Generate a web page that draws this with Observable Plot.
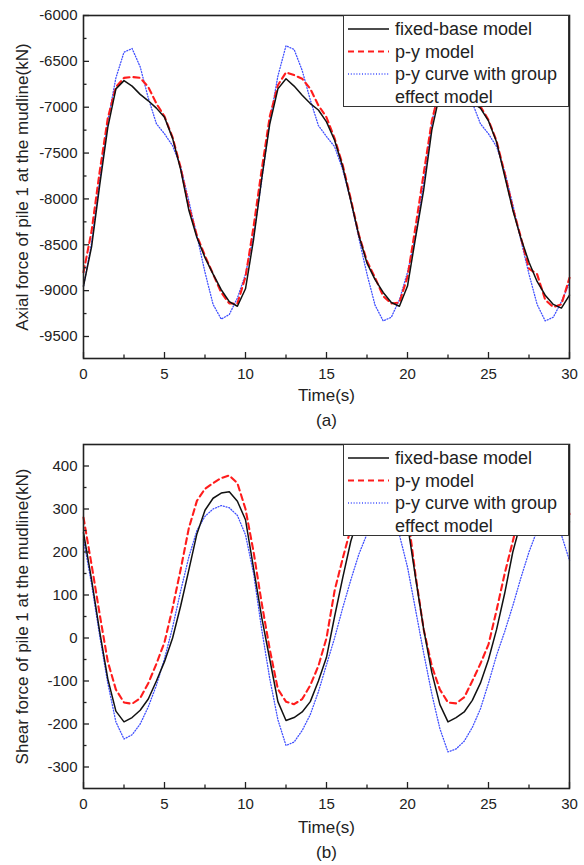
<!DOCTYPE html>
<html><head><meta charset="utf-8">
<script src="https://cdn.jsdelivr.net/npm/d3@7"></script>
<script src="https://cdn.jsdelivr.net/npm/@observablehq/plot@0.6"></script>
<style>
body{margin:0;background:#fff;font-family:Arial,"Liberation Sans",sans-serif;}
#wrap{width:584px;}
.panel{position:relative;width:584px;}
.panel svg{display:block;}
.legend{position:absolute;background:#fff;border:1.3px solid #333;box-sizing:border-box;}
.legend svg{position:absolute;left:0;top:0;}
</style></head><body><div id="wrap"></div>
<script>
// ---------- data ----------
const time = [0,0.5,1,1.5,2,2.5,3,3.5,4,4.5,5,5.5,6,6.5,7,7.5,8,8.5,9,9.5,
  10,10.5,11,11.5,12,12.5,13,13.5,14,14.5,15,15.5,16,16.5,17,17.5,18,18.5,19,19.5,
  20,20.5,21,21.5,22,22.5,23,23.5,24,24.5,25,25.5,26,26.5,27,27.5,28,28.5,29,29.5,30];

// (a) axial force (kN)
const axialFixed = [-8950,-8520,-7850,-7220,-6800,-6710,-6770,-6860,-6930,-7010,
  -7110,-7340,-7680,-8120,-8420,-8640,-8820,-8990,-9120,-9170,
  -8980,-8440,-7780,-7180,-6800,-6690,-6770,-6870,-6960,-7030,
  -7160,-7360,-7650,-8020,-8400,-8700,-8880,-9020,-9130,-9170,
  -8950,-8420,-7900,-7250,-6850,-6720,-6770,-6870,-6950,-7010,
  -7150,-7380,-7750,-8120,-8430,-8690,-8900,-9050,-9150,-9190,-9050];
const axialPy = [-8800,-8350,-7700,-7120,-6780,-6680,-6670,-6680,-6780,-6960,
  -7100,-7330,-7660,-8080,-8400,-8620,-8820,-9020,-9140,-9140,
  -8850,-8300,-7680,-7100,-6760,-6620,-6650,-6690,-6800,-6980,
  -7110,-7340,-7630,-8000,-8390,-8680,-8860,-9060,-9140,-9130,
  -8850,-8300,-7720,-7150,-6790,-6650,-6660,-6700,-6800,-6990,
  -7140,-7370,-7720,-8100,-8420,-8760,-8820,-9100,-9180,-9150,-8860];
const axialGroup = [-8950,-8480,-7800,-7150,-6680,-6400,-6360,-6560,-6900,-7180,
  -7290,-7420,-7650,-8020,-8400,-8800,-9150,-9310,-9260,-9080,
  -8820,-8400,-7800,-7150,-6660,-6330,-6370,-6600,-6920,-7200,
  -7320,-7430,-7680,-8020,-8430,-8820,-9160,-9330,-9290,-9100,
  -8800,-8400,-7820,-7180,-6700,-6380,-6400,-6620,-6950,-7180,
  -7290,-7430,-7700,-8060,-8450,-8820,-9150,-9330,-9290,-9120,-8920];

// (b) shear force (kN)
const shearFixed = [245,135,15,-95,-170,-195,-185,-168,-142,-100,
  -55,0,75,158,242,297,325,337,340,318,
  275,162,48,-50,-148,-192,-185,-172,-148,-100,
  -45,50,140,225,285,318,332,340,338,320,
  265,140,20,-80,-155,-195,-185,-172,-145,-105,
  -50,20,104,200,270,310,330,340,338,318,270];
const shearPy = [280,170,55,-55,-120,-150,-153,-140,-105,-60,
  -10,70,160,255,319,347,360,372,378,360,
  300,200,81,-27,-119,-148,-154,-142,-110,-65,
  0,110,185,255,315,345,360,372,378,360,
  290,145,20,-65,-120,-150,-152,-138,-100,-60,
  -15,65,150,225,300,340,360,370,375,340,288];
const shearGroup = [230,125,5,-105,-195,-235,-225,-200,-160,-110,
  -48,25,110,188,250,283,300,308,303,285,
  240,150,20,-95,-190,-250,-242,-215,-178,-125,
  -62,0,70,135,195,242,278,300,298,240,
  165,65,-35,-130,-211,-265,-258,-240,-208,-165,
  -105,-40,15,75,140,200,250,285,295,240,180];

const seriesNames = ["fixed-base model", "p-y model", "p-y curve with group", "effect model"];
const xMajor = [0,5,10,15,20,25,30];
const xMinor = [2.5,7.5,12.5,17.5,22.5,27.5];
const axialMajor = [-6000,-6500,-7000,-7500,-8000,-8500,-9000,-9500];
const axialMinor = [-6250,-6750,-7250,-7750,-8250,-8750,-9250];
const shearMajor = [-300,-200,-100,0,100,200,300,400];
const shearMinor = [-250,-150,-50,50,150,250,350];
const xTitle = "Time(s)";
const axialTitle = "Axial force of pile 1 at the mudline(kN)";
const shearTitle = "Shear force of pile 1 at the mudline(kN)";

// ---------- styles ----------
const styles = [
  {stroke: "#111", strokeWidth: 1.5},
  {stroke: "#ff1c1c", strokeWidth: 2.1, strokeDasharray: "6,4"},
  {stroke: "#4050ff", strokeWidth: 1.3, strokeDasharray: "1,1.8"}
];

const W = 584, ML = 83, MR = 15;
const font = 'Arial, "Liberation Sans", sans-serif';

function makePanel(cfg) {
  const innerH = cfg.height - cfg.mt - cfg.mb;
  const innerW = W - ML - MR;
  const tickStyle = {stroke: "#222", strokeWidth: 1.3};
  const lines = cfg.series.map((vals, i) =>
    Plot.line(vals, {x: time, y: d => d, ...styles[i], strokeLinejoin: "round"}));
  const svg = Plot.plot({
    width: W, height: cfg.height,
    marginLeft: ML, marginRight: MR, marginTop: cfg.mt, marginBottom: cfg.mb,
    style: {fontFamily: font, fontSize: "15px", color: "#222", background: "#fff"},
    x: {domain: [0, 30]},
    y: {domain: cfg.yDomain},
    marks: [
      ...lines.reverse(),
      Plot.ruleX(xMinor, {insetTop: innerH - 3.5, ...tickStyle}),
      Plot.ruleX(xMajor, {insetTop: innerH - 6, ...tickStyle}),
      Plot.ruleY(cfg.yMinor, {insetRight: innerW - 3.5, ...tickStyle}),
      Plot.ruleY(cfg.yMajor, {insetRight: innerW - 6, ...tickStyle}),
      Plot.axisX({ticks: xMajor, tickSize: 0, tickPadding: 10, label: null, tickFormat: d => String(d)}),
      Plot.axisY({ticks: cfg.yMajor, tickSize: 0, tickPadding: 6, label: null, tickFormat: d => String(d)}),
      Plot.frame({stroke: "#222", strokeWidth: 1.6}),
      Plot.text([xTitle], {text: d => d, frameAnchor: "bottom", lineAnchor: "middle", dy: cfg.titleDy, fontSize: 17}),
      Plot.text([cfg.caption], {text: d => d, frameAnchor: "bottom", lineAnchor: "middle", dy: cfg.captionDy, fontSize: 17}),
      Plot.text([cfg.yTitle], {text: d => d, frameAnchor: "left", textAnchor: "middle", lineAnchor: "middle", dx: -61, rotate: -90, fontSize: 17})
    ]
  });
  const div = document.createElement("div");
  div.className = "panel";
  div.style.height = cfg.height + "px";
  div.appendChild(svg);

  // legend
  const lg = document.createElement("div");
  lg.className = "legend";
  Object.assign(lg.style, {left: "343px", top: cfg.mt + "px", width: "226px", height: "92px"});
  const ns = "http://www.w3.org/2000/svg";
  const ls = document.createElementNS(ns, "svg");
  ls.setAttribute("width", 226); ls.setAttribute("height", 92);
  const baselines = [19, 41.5, 64, 86.5];
  seriesNames.forEach((name, i) => {
    if (i < 3) {
      const ln = document.createElementNS(ns, "line");
      ln.setAttribute("x1", 4); ln.setAttribute("x2", 45);
      ln.setAttribute("y1", baselines[i] - 6); ln.setAttribute("y2", baselines[i] - 6);
      ln.setAttribute("stroke", styles[i].stroke);
      ln.setAttribute("stroke-width", styles[i].strokeWidth);
      if (styles[i].strokeDasharray) ln.setAttribute("stroke-dasharray", styles[i].strokeDasharray);
      ls.appendChild(ln);
    }
    const tx = document.createElementNS(ns, "text");
    tx.setAttribute("x", 51); tx.setAttribute("y", baselines[i]);
    tx.setAttribute("font-size", 18); tx.setAttribute("font-family", font);
    tx.setAttribute("fill", "#222");
    tx.textContent = name;
    ls.appendChild(tx);
  });
  lg.appendChild(ls);
  div.appendChild(lg);
  return div;
}

const wrap = document.getElementById("wrap");
wrap.appendChild(makePanel({
  series: [axialFixed, axialPy, axialGroup],
  yDomain: [-9740, -6000], yMajor: axialMajor, yMinor: axialMinor,
  yTitle: axialTitle, caption: "(a)",
  height: 432, mt: 15, mb: 74, titleDy: 37, captionDy: 62
}));
wrap.appendChild(makePanel({
  series: [shearFixed, shearPy, shearGroup],
  yDomain: [-350, 450], yMajor: shearMajor, yMinor: shearMinor,
  yTitle: shearTitle, caption: "(b)",
  height: 433, mt: 12, mb: 77, titleDy: 39, captionDy: 64
}));
</script></body></html>
